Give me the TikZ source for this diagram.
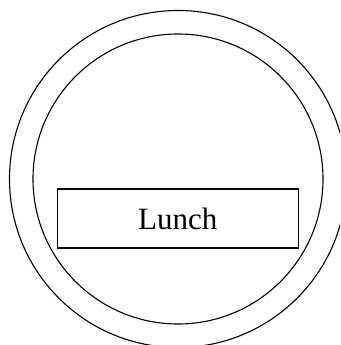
\documentclass[tikz,border=0pt]{standalone}
\usepackage{fontspec}
\setmainfont{Liberation Serif}
\begin{document}
\begin{tikzpicture}[x=1pt,y=1pt,
  ring/.style={draw=black,line width=1.1pt,circle,inner sep=0pt},
  box/.style={draw=black,line width=1.1pt,rectangle,inner sep=0pt,minimum width=240.5pt,minimum height=59pt,font=\fontsize{31}{36}\selectfont}]
\clip (0,0) rectangle (340,345);
\useasboundingbox (0,0) rectangle (340,345);
\node[ring,minimum size=337pt] (outer) at (178,166) {};
\node[ring,minimum size=290pt] (inner) at (178,166) {};
\node[box] (lunch) at (177.8,126.5) {Lunch};
\end{tikzpicture}
\end{document}
